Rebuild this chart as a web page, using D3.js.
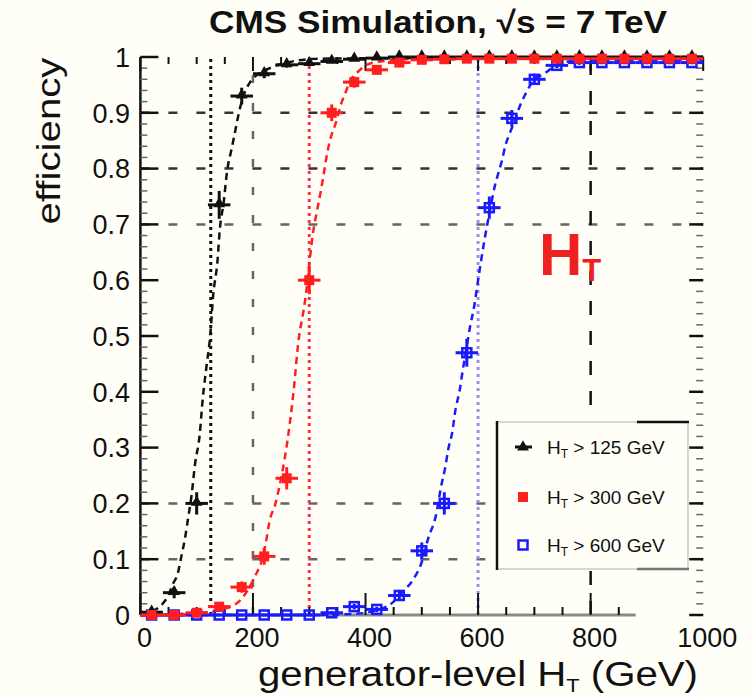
<!DOCTYPE html>
<html>
<head>
<meta charset="utf-8">
<script src="https://cdn.jsdelivr.net/npm/d3@7/dist/d3.min.js"></script>
<style>
  body { margin: 0; background: #fffff7; }
  text { font-family: "Liberation Sans", Arial, sans-serif; }
</style>
</head>
<body>
<div id="chart"></div>
<script>
// bin centres (GeV) shared by the three selections
const binCenters = [20, 60, 100, 140, 180, 220, 260, 300, 340, 380, 420, 460, 500,
  540, 580, 620, 660, 700, 740, 780, 820, 860, 900, 940, 980];

const effHT125 = [0.005, 0.04, 0.2, 0.735, 0.93, 0.97, 0.986, 0.988, 0.992, 0.996, 0.998, 1, 1,
  1, 1, 1, 1, 1, 1, 1, 1, 1, 1, 1, 1];
const errHT125 = [0.004, 0.01, 0.02, 0.025, 0.015, 0.008, 0.005, 0.004, 0.003, 0.002, 0.002, 0, 0,
  0, 0, 0, 0, 0, 0, 0, 0, 0, 0, 0, 0];

const effHT300 = [0, 0, 0.004, 0.015, 0.05, 0.105, 0.245, 0.6, 0.9, 0.955, 0.977, 0.99, 0.995,
  0.996, 0.997, 0.997, 0.997, 0.997, 0.997, 0.997, 0.997, 0.997, 0.997, 0.997, 0.997];
const errHT300 = [0, 0, 0.002, 0.005, 0.01, 0.015, 0.02, 0.025, 0.015, 0.01, 0.006, 0.004, 0.003,
  0, 0, 0, 0, 0, 0, 0, 0, 0, 0, 0, 0];

const effHT600 = [0, 0, 0, 0, 0, 0, 0, 0, 0.004, 0.015, 0.01, 0.035, 0.115,
  0.2, 0.47, 0.73, 0.89, 0.96, 0.985, 0.99, 0.99, 0.99, 0.99, 0.99, 0.99];
const errHT600 = [0, 0, 0, 0, 0, 0, 0, 0, 0.003, 0.005, 0.005, 0.01, 0.015,
  0.02, 0.025, 0.02, 0.015, 0.01, 0.005, 0.004, 0.003, 0.003, 0.003, 0.003, 0.003];

// dashed fit curves
const fitHT125X = [0, 20, 41, 50, 58, 66, 73, 79, 85, 91, 97, 105, 111, 118, 124, 129, 137, 141,
  148, 154, 162, 169, 175, 183, 195, 210, 230, 260, 320, 1000];
const fitHT125Y = [0.001, 0.006, 0.022, 0.036, 0.056, 0.073, 0.106, 0.136, 0.175, 0.215, 0.27, 0.32,
  0.39, 0.45, 0.5, 0.57, 0.635, 0.69, 0.74, 0.795, 0.835, 0.87, 0.9, 0.93, 0.955, 0.97, 0.98, 0.99, 0.997, 1];

const fitHT300X = [0, 120, 147, 165, 180, 192, 204, 218, 224, 229, 240, 250, 261, 271, 282, 289,
  296, 301, 306, 313, 321, 326, 332, 338, 346, 358, 364, 372, 387, 402, 426, 500, 1000];
const fitHT300Y = [0, 0.005, 0.011, 0.017, 0.029, 0.047, 0.07, 0.106, 0.136, 0.166, 0.2, 0.245, 0.31,
  0.39, 0.5, 0.54, 0.59, 0.637, 0.68, 0.72, 0.762, 0.792, 0.828, 0.855, 0.878, 0.92, 0.935, 0.956,
  0.974, 0.986, 0.992, 0.997, 0.997];

const fitHT600X = [0, 300, 380, 425, 449, 464, 485, 500, 511, 525, 535, 541, 547, 554, 560, 567,
  573, 579, 586, 593, 600, 611, 622, 630, 636, 642, 649, 655, 662, 675, 687, 699, 716, 740, 760, 800, 1000];
const fitHT600Y = [0, 0, 0.002, 0.01, 0.023, 0.04, 0.064, 0.095, 0.136, 0.178, 0.234, 0.261, 0.297,
  0.327, 0.369, 0.401, 0.44, 0.476, 0.518, 0.553, 0.6, 0.67, 0.73, 0.77, 0.792, 0.813, 0.843, 0.86,
  0.878, 0.914, 0.939, 0.959, 0.969, 0.986, 0.992, 0.995, 0.995];

const thresholds = [125, 300, 600];
const legendLabels = ["125", "300", "600"];
const xTicks = [0, 200, 400, 600, 800, 1000];
const yTicks = [0, 0.1, 0.2, 0.3, 0.4, 0.5, 0.6, 0.7, 0.8, 0.9, 1];
const yTickLabels = ["0", "0.1", "0.2", "0.3", "0.4", "0.5", "0.6", "0.7", "0.8", "0.9", "1"];
const gridY = [0.1, 0.2, 0.7, 0.8, 0.9];
const gridX = [200, 800];

const width = 755, height = 695;
const bg = "#fffff7";
const colors = { black: "#111111", red: "#ff1f1f", blue: "#1a1aff" };
const threshColors = ["#111111", "#ff3344", "#9a8cff"];

const svg = d3.select("#chart").append("svg")
  .attr("width", width).attr("height", height)
  .style("background", bg);

const x = d3.scaleLinear().domain([0, 1000]).range([140.4, 703.2]);
const y = d3.scaleLinear().domain([0, 1]).range([615, 57]);

// grid
svg.append("g").selectAll("line").data(gridY).join("line")
  .attr("x1", x(0)).attr("x2", x(1000))
  .attr("y1", d => y(d)).attr("y2", d => y(d))
  .attr("stroke", d => d >= 0.8 ? "#333" : "#666")
  .attr("stroke-width", 2.5)
  .attr("stroke-dasharray", "9,19");

svg.append("g").selectAll("line").data(gridX).join("line")
  .attr("x1", d => x(d)).attr("x2", d => x(d))
  .attr("y1", y(0)).attr("y2", y(1))
  .attr("stroke", d => d === 800 ? "#111" : "#666")
  .attr("stroke-width", 2.5)
  .attr("stroke-dasharray", d => d === 800 ? "14,16" : "8,20");

// threshold lines
svg.append("g").selectAll("line").data(thresholds).join("line")
  .attr("x1", d => x(d)).attr("x2", d => x(d))
  .attr("y1", y(0)).attr("y2", y(1))
  .attr("stroke", (d, i) => threshColors[i])
  .attr("stroke-width", 3)
  .attr("stroke-dasharray", "3,4");

// axes lines + ticks
const minorY = d3.range(0, 51).map(i => i / 50);
const minorX = d3.range(0, 21).map(i => i * 50);

svg.append("line")
  .attr("x1", x(0)).attr("x2", x(0)).attr("y1", y(0)).attr("y2", y(1))
  .attr("stroke", "#111").attr("stroke-width", 2.5);
svg.append("line")
  .attr("x1", x(0)).attr("x2", x(880)).attr("y1", y(0)).attr("y2", y(0))
  .attr("stroke", "#8a8c88").attr("stroke-width", 3);

// left ticks
svg.append("g").selectAll("line").data(minorY).join("line")
  .attr("x1", x(0)).attr("x2", x(0) + 7)
  .attr("y1", d => y(d)).attr("y2", d => y(d))
  .attr("stroke", "#666").attr("stroke-width", 1.5);
svg.append("g").selectAll("line").data(yTicks).join("line")
  .attr("x1", x(0)).attr("x2", x(0) + 18)
  .attr("y1", d => y(d)).attr("y2", d => y(d))
  .attr("stroke", "#111").attr("stroke-width", 2.5);
// right ticks
svg.append("g").selectAll("line").data(minorY).join("line")
  .attr("x1", x(1000)).attr("x2", x(1000) - 7)
  .attr("y1", d => y(d)).attr("y2", d => y(d))
  .attr("stroke", "#666").attr("stroke-width", 1.5);
svg.append("g").selectAll("line").data(yTicks).join("line")
  .attr("x1", x(1000)).attr("x2", x(1000) - 14)
  .attr("y1", d => y(d)).attr("y2", d => y(d))
  .attr("stroke", "#111").attr("stroke-width", 2.5);
// bottom ticks
svg.append("g").selectAll("line").data(minorX.filter(d => d <= 850)).join("line")
  .attr("x1", d => x(d)).attr("x2", d => x(d))
  .attr("y1", y(0)).attr("y2", d => y(0) - (d % 200 === 0 ? 22 : 8))
  .attr("stroke", "#111").attr("stroke-width", 2);
// top ticks
svg.append("g").selectAll("line").data(minorX).join("line")
  .attr("x1", d => x(d)).attr("x2", d => x(d))
  .attr("y1", y(1)).attr("y2", d => y(1) + (d % 200 === 0 ? 14 : 7))
  .attr("stroke", "#111").attr("stroke-width", 2);

// tick labels
svg.append("g").selectAll("text").data(yTicks).join("text")
  .attr("x", 130).attr("y", d => y(d)).attr("dy", "0.36em")
  .attr("text-anchor", "end").attr("font-size", 27).attr("fill", "#111")
  .text((d, i) => yTickLabels[i]);
svg.append("g").selectAll("text").data(xTicks).join("text")
  .attr("x", d => x(d) + 4).attr("y", 647)
  .attr("text-anchor", "middle").attr("font-size", 27).attr("fill", "#111")
  .text(d => d);

// fits
const line = d3.line().x(d => x(d[0])).y(d => y(d[1])).curve(d3.curveMonotoneX);
const fits = [
  { xs: fitHT600X, ys: fitHT600Y, c: colors.blue },
  { xs: fitHT300X, ys: fitHT300Y, c: colors.red },
  { xs: fitHT125X, ys: fitHT125Y, c: colors.black }
];
fits.forEach(f => {
  svg.append("path")
    .attr("d", line(f.xs.map((v, i) => [v, f.ys[i]])))
    .attr("fill", "none").attr("stroke", f.c)
    .attr("stroke-width", 2.5).attr("stroke-dasharray", "7,5");
});

// data points with error bars
const series = [
  { eff: effHT600, err: errHT600, c: colors.blue, shape: "open" },
  { eff: effHT125, err: errHT125, c: colors.black, shape: "tri" },
  { eff: effHT300, err: errHT300, c: colors.red, shape: "square" }
];
series.forEach(s => {
  const pts = binCenters.map((b, i) => ({ b, e: s.eff[i], er: s.err[i] }));
  const g = svg.append("g");
  g.selectAll(".ex").data(pts).join("line")
    .attr("x1", d => x(d.b - 20)).attr("x2", d => x(d.b + 20))
    .attr("y1", d => y(d.e)).attr("y2", d => y(d.e))
    .attr("stroke", s.c).attr("stroke-width", 3);
  g.selectAll(".ey").data(pts.filter(d => d.er > 0)).join("line")
    .attr("x1", d => x(d.b)).attr("x2", d => x(d.b))
    .attr("y1", d => y(d.e - d.er)).attr("y2", d => y(Math.min(1.005, d.e + d.er)))
    .attr("stroke", s.c).attr("stroke-width", 3);
  if (s.shape === "square") {
    g.selectAll("rect").data(pts).join("rect")
      .attr("x", d => x(d.b) - 5).attr("y", d => y(d.e) - 5)
      .attr("width", 10).attr("height", 10).attr("fill", s.c);
  } else if (s.shape === "open") {
    g.selectAll("rect").data(pts).join("rect")
      .attr("x", d => x(d.b) - 4.5).attr("y", d => y(d.e) - 4.5)
      .attr("width", 9).attr("height", 9)
      .attr("fill", "none").attr("stroke", s.c).attr("stroke-width", 2.5);
  } else {
    g.selectAll("path").data(pts).join("path")
      .attr("d", d3.symbol(d3.symbolTriangle, 60))
      .attr("transform", d => `translate(${x(d.b)},${y(d.e) - 1})`)
      .attr("fill", s.c);
  }
});

// legend
const lg = svg.append("g");
lg.append("rect").attr("x", 497).attr("y", 422).attr("width", 191).attr("height", 147)
  .attr("fill", bg).attr("stroke", "#d6d9d2").attr("stroke-width", 2);
lg.append("line").attr("x1", 497).attr("x2", 497).attr("y1", 421).attr("y2", 570)
  .attr("stroke", "#111").attr("stroke-width", 2.5);
lg.append("line").attr("x1", 637).attr("x2", 689).attr("y1", 422).attr("y2", 422)
  .attr("stroke", "#111").attr("stroke-width", 2.5);
lg.append("line").attr("x1", 637).attr("x2", 689).attr("y1", 569).attr("y2", 569)
  .attr("stroke", "#777").attr("stroke-width", 2.5);

const legendRows = [447, 497, 545];
legendRows.forEach((ry, i) => {
  if (i === 0) {
    lg.append("path").attr("d", d3.symbol(d3.symbolTriangle, 60))
      .attr("transform", `translate(523,${ry})`).attr("fill", colors.black);
    lg.append("line").attr("x1", 515).attr("x2", 532).attr("y1", ry).attr("y2", ry)
      .attr("stroke", colors.black).attr("stroke-width", 3);
  } else if (i === 1) {
    lg.append("rect").attr("x", 518).attr("y", ry - 5).attr("width", 10).attr("height", 10)
      .attr("fill", colors.red);
  } else {
    lg.append("rect").attr("x", 518.5).attr("y", ry - 4.5).attr("width", 9).attr("height", 9)
      .attr("fill", "none").attr("stroke", colors.blue).attr("stroke-width", 2.5);
  }
  const t = lg.append("text").attr("x", 547).attr("y", ry + 7)
    .attr("font-size", 19).attr("fill", "#111");
  t.append("tspan").text("H");
  t.append("tspan").attr("font-size", 12).attr("dy", 4).text("T");
  t.append("tspan").attr("dy", -4).text(` > ${legendLabels[i]} GeV`);
});

// big H_T label
const ht = svg.append("text").attr("x", 539).attr("y", 275)
  .attr("font-size", 60).attr("font-weight", "bold").attr("fill", "#f02020");
ht.append("tspan").text("H");
ht.append("tspan").attr("font-size", 31).attr("dy", 6).text("T");

// title
svg.append("text").attr("x", 438).attr("y", 33)
  .attr("text-anchor", "middle").attr("font-size", 31).attr("font-weight", "bold")
  .attr("fill", "#111").attr("textLength", 458).attr("lengthAdjust", "spacingAndGlyphs")
  .text("CMS Simulation, \u221As = 7 TeV");

// axis titles
svg.append("text").attr("transform", "translate(60,141) rotate(-90)")
  .attr("text-anchor", "middle").attr("font-size", 34).attr("fill", "#111")
  .attr("textLength", 167).attr("lengthAdjust", "spacingAndGlyphs")
  .text("efficiency");

const xl = svg.append("text").attr("x", 258).attr("y", 686)
  .attr("font-size", 35).attr("fill", "#111")
  .attr("textLength", 440).attr("lengthAdjust", "spacingAndGlyphs");
xl.append("tspan").text("generator-level H");
xl.append("tspan").attr("font-size", 19).attr("dy", 6).text("T");
xl.append("tspan").attr("dy", -6).text(" (GeV)");
</script>
</body>
</html>
